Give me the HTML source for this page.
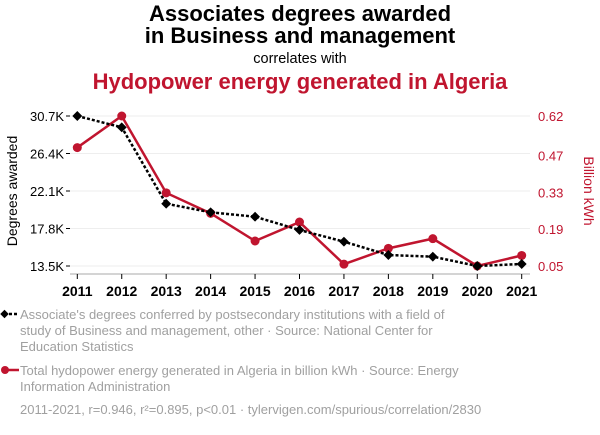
<!DOCTYPE html>
<html><head><meta charset="utf-8"><style>
body{margin:0;background:#fff;width:600px;height:430px;overflow:hidden;font-family:"Liberation Sans",sans-serif}
</style></head><body>
<svg width="600" height="430" xmlns="http://www.w3.org/2000/svg" font-family="Liberation Sans, sans-serif">
<text x="300" y="21" text-anchor="middle" font-size="22" font-weight="bold" fill="#000">Associates degrees awarded</text>
<text x="300" y="43" text-anchor="middle" font-size="22" font-weight="bold" fill="#000">in Business and management</text>
<text x="300" y="63" text-anchor="middle" font-size="14.5" fill="#000">correlates with</text>
<text x="300" y="89" text-anchor="middle" font-size="22" font-weight="bold" fill="#c0152f">Hydopower energy generated in Algeria</text>
<g id="grid"></g>
<g id="axes"></g>
<g id="marks"></g>
<text transform="translate(17,191) rotate(-90)" text-anchor="middle" font-size="14" fill="#000">Degrees awarded</text>
<text transform="translate(584,191) rotate(90)" text-anchor="middle" font-size="14" fill="#c0152f">Billion kWh</text>
<g>
<line x1="4" y1="314" x2="19" y2="314" stroke="#000" stroke-width="2.5" stroke-dasharray="3,2"/>
<rect x="1.5" y="311" width="6" height="6" transform="rotate(45 4.5 314)" fill="#000"/>
<text font-size="13" fill="#a0a0a0"><tspan x="20" y="319">Associate's degrees conferred by postsecondary institutions with a field of</tspan><tspan x="20" y="335">study of Business and management, other · Source: National Center for</tspan><tspan x="20" y="351">Education Statistics</tspan></text>
</g>
<g>
<line x1="4" y1="370" x2="19" y2="370" stroke="#c0152f" stroke-width="2.5"/>
<circle cx="5" cy="370" r="4" fill="#c0152f"/>
<text font-size="13" fill="#a0a0a0"><tspan x="20" y="375">Total hydopower energy generated in Algeria in billion kWh · Source: Energy</tspan><tspan x="20" y="391">Information Administration</tspan></text>
</g>
<text x="20" y="414" font-size="13" fill="#a0a0a0">2011-2021, r=0.946, r²=0.895, p&lt;0.01 · tylervigen.com/spurious/correlation/2830</text>
</svg>
<script>
const years=[2011,2012,2013,2014,2015,2016,2017,2018,2019,2020,2021];
const degrees=[30.7,29.4,20.64,19.66,19.15,17.63,16.29,14.76,14.57,13.5,13.73];
const hydro=[0.50,0.62,0.328,0.25,0.145,0.217,0.057,0.117,0.154,0.05,0.09];
const leftTicks=[13.5,17.8,22.1,26.4,30.7];
const leftLabels=["13.5K","17.8K","22.1K","26.4K","30.7K"];
const rightTicks=[0.05,0.19,0.33,0.47,0.62];
const NS="http://www.w3.org/2000/svg";
const x=i=>77.3+(521.7-77.3)*i/(years.length-1);
const yL=v=>266-(v-13.5)/(30.7-13.5)*150;
const yR=v=>266-(v-0.05)/(0.62-0.05)*150;
function mk(t,a,p){const e=document.createElementNS(NS,t);for(const k in a)e.setAttribute(k,a[k]);p.appendChild(e);return e;}
const grid=document.getElementById('grid'),axes=document.getElementById('axes'),marks=document.getElementById('marks');
leftTicks.forEach((v,i)=>{
 const g=mk('line',{x1:70,x2:530,y1:yL(v),y2:yL(v),stroke:'#eee','stroke-width':1},grid);
 
 
 const t=mk('text',{x:64,y:yL(v)+5,'text-anchor':'end','font-size':13,fill:'#000'},axes);
 t.textContent=leftLabels[i];
 
 
 mk('line',{x1:66,x2:70,y1:yL(v),y2:yL(v),stroke:'#000'},axes);
});
rightTicks.forEach(v=>{
 const t=mk('text',{x:538,y:yR(v)+5,'font-size':13,fill:'#c0152f'},axes);
 t.textContent=v.toFixed(2);
 
 
});
mk('line',{x1:70,x2:530,y1:274,y2:274,stroke:'#aaa'},axes);
years.forEach((yr,i)=>{
 mk('line',{x1:x(i),x2:x(i),y1:274,y2:279,stroke:'#000'},axes);
 const t=mk('text',{x:x(i),y:296,'text-anchor':'middle','font-size':14,'font-weight':'bold',fill:'#000'},axes);
 t.textContent=yr;
 
 
});
const rl=mk('polyline',{points:hydro.map((v,i)=>x(i)+','+yR(v)).join(' '),fill:'none',stroke:'#c0152f','stroke-width':2.5},marks);


const bl=mk('polyline',{points:degrees.map((v,i)=>x(i)+','+yL(v)).join(' '),fill:'none',stroke:'#000','stroke-width':2.5,'stroke-dasharray':'3,2'},marks);


hydro.forEach((v,i)=>{
 const c=mk('circle',{cx:x(i),cy:yR(v),r:4.5,fill:'#c0152f'},marks);
 
 
});
degrees.forEach((v,i)=>{
 const r=mk('rect',{x:x(i)-3.5,y:yL(v)-3.5,width:7,height:7,fill:'#000',transform:`rotate(45 ${x(i)} ${yL(v)})`},marks);
 
 
});
</script>
</body></html>
